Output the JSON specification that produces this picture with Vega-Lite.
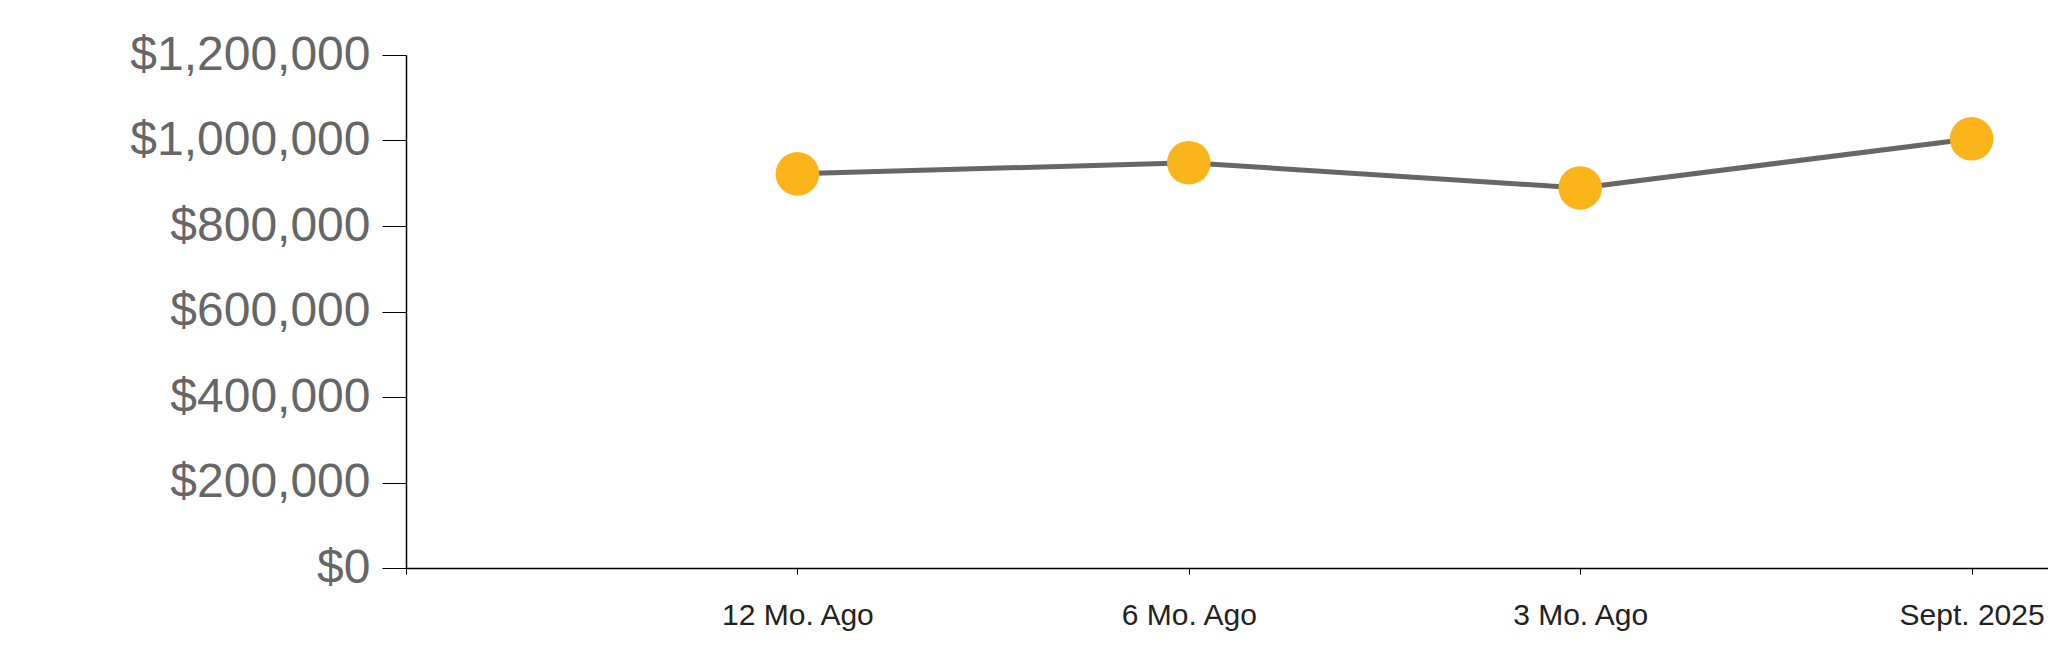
{
  "$schema": "https://vega.github.io/schema/vega-lite/v6.json",
  "autosize": {"type": "none"},
  "width": 1642,
  "height": 513,
  "padding": {"left": 406, "top": 55, "right": 0, "bottom": 95},
  "background": "white",
  "config": {
    "view": {"stroke": null},
    "font": "Liberation Sans"
  },
  "data": {
    "values": [
      {"period": "12 Mo. Ago", "price": 922000},
      {"period": "6 Mo. Ago", "price": 948000},
      {"period": "3 Mo. Ago", "price": 889000},
      {"period": "Sept. 2025", "price": 1004000}
    ]
  },
  "encoding": {
    "x": {
      "field": "period",
      "type": "ordinal",
      "sort": null,
      "scale": {
        "type": "point",
        "domain": [" ", "12 Mo. Ago", "6 Mo. Ago", "3 Mo. Ago", "Sept. 2025"],
        "padding": 0.0976,
        "align": 0
      },
      "axis": {
        "title": null,
        "labelAngle": 0,
        "labelFontSize": 30,
        "labelColor": "#222222",
        "labelPadding": 26,
        "labelLimit": 0,
        "tickSize": 6,
        "tickColor": "#000000",
        "domainColor": "#000000",
        "domainWidth": 1.5,
        "tickWidth": 1,
        "grid": false
      }
    },
    "y": {
      "field": "price",
      "type": "quantitative",
      "scale": {"domain": [0, 1200000], "nice": false, "zero": true},
      "axis": {
        "title": null,
        "values": [0, 200000, 400000, 600000, 800000, 1000000, 1200000],
        "format": "$,.0f",
        "labelFontSize": 48,
        "labelColor": "#666666",
        "labelPadding": 12,
        "labelLimit": 0,
        "tickSize": 24,
        "tickColor": "#000000",
        "domainColor": "#000000",
        "domainWidth": 1.5,
        "grid": false
      }
    }
  },
  "layer": [
    {"mark": {"type": "line", "color": "#666666", "strokeWidth": 5}},
    {"mark": {"type": "point", "shape": "circle", "filled": true, "opacity": 1, "color": "#FBB41A", "size": 1900}}
  ]
}
